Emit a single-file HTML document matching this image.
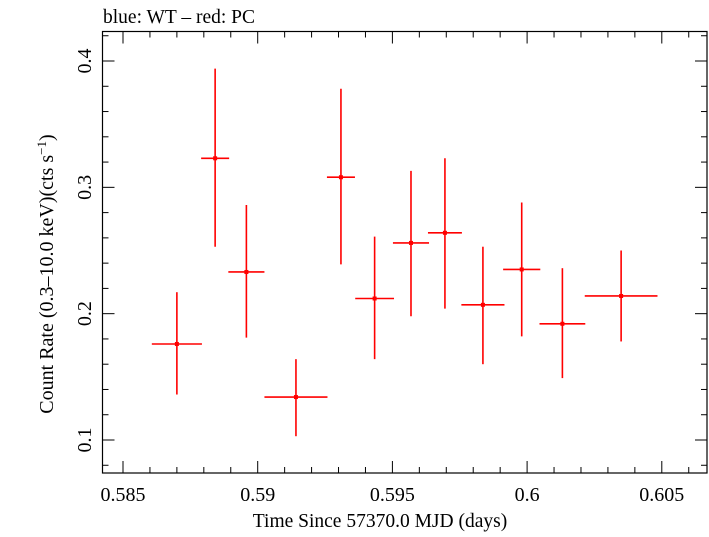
<!DOCTYPE html>
<html><head><meta charset="utf-8"><style>
body{margin:0;background:#fff}
svg text{font-family:"Liberation Serif",serif;fill:#000}
</style></head><body>
<svg width="709" height="532" id="c">
<text x="103" y="23" font-size="19.5">blue: WT – red: PC</text>
<rect x="102.5" y="31.5" width="604.5" height="441.5" fill="none" stroke="#000" stroke-width="1.2"/>
<g id="ticks"></g><g id="marks"></g>
<text x="380" y="527" font-size="19.5" text-anchor="middle">Time Since 57370.0 MJD (days)</text>
<text transform="translate(53,274) rotate(-90)" font-size="20" text-anchor="middle">Count Rate (0.3–10.0 keV)(cts s<tspan dy="-7" font-size="13">−1</tspan><tspan dy="7">)</tspan></text>
</svg>
<script>
const times=[0.58700,0.58842,0.58958,0.59142,0.59309,0.59434,0.59569,0.59695,0.59836,0.59980,0.60131,0.60349];
const timeErr=[0.00093,0.00052,0.00067,0.00117,0.00052,0.00072,0.00067,0.00063,0.00080,0.00069,0.00085,0.00135];
const rates=[0.176,0.323,0.233,0.134,0.308,0.212,0.256,0.264,0.207,0.235,0.192,0.214];
const rateLo=[0.136,0.253,0.181,0.103,0.239,0.164,0.198,0.204,0.160,0.182,0.149,0.178];
const rateHi=[0.217,0.394,0.286,0.164,0.378,0.261,0.313,0.323,0.253,0.288,0.236,0.250];
const xTickLabels=["0.585","0.59","0.595","0.6","0.605"];
const xTickVals=[0.585,0.59,0.595,0.6,0.605];
const yTickLabels=["0.1","0.2","0.3","0.4"];
const yTickVals=[0.1,0.2,0.3,0.4];
const X=v=>123+(v-0.585)*26940;
const Y=v=>440-(v-0.1)*1263.3;
const NS="http://www.w3.org/2000/svg";
const tk=document.getElementById('ticks'),mk=document.getElementById('marks');
function line(p,x1,y1,x2,y2,st,w){const l=document.createElementNS(NS,'line');l.setAttribute('x1',x1);l.setAttribute('y1',y1);l.setAttribute('x2',x2);l.setAttribute('y2',y2);l.setAttribute('stroke',st);l.setAttribute('stroke-width',w);p.appendChild(l);return l;}
for(let i=0;i<=25;i++){const v=0.584+i*0.001;const x=X(v);if(x<103||x>707)continue;const major=Math.abs(Math.round(v*200)-v*200)<1e-6;const L=major?12:6;
let a=line(tk,x,473,x,473-L,'#000',1);
let b=line(tk,x,31.5,x,31.5+L,'#000',1);}
for(let i=0;i<=20;i++){const v=0.08+i*0.02;const y=Y(v);if(y<32||y>473)continue;const major=Math.abs(Math.round(v*10)-v*10)<1e-6;const L=major?12:6;
let a=line(tk,102.5,y,102.5+L,y,'#000',1);
let b=line(tk,707,y,707-L,y,'#000',1);}
xTickLabels.forEach((s,i)=>{const t=document.createElementNS(NS,'text');t.setAttribute('x',X(xTickVals[i]));t.setAttribute('y',501);t.setAttribute('font-size','20');t.setAttribute('text-anchor','middle');t.textContent=s;


tk.appendChild(t);});
yTickLabels.forEach((s,i)=>{const t=document.createElementNS(NS,'text');t.setAttribute('transform','translate(91,'+Y(yTickVals[i])+') rotate(-90)');t.setAttribute('font-size','20');t.setAttribute('text-anchor','middle');t.textContent=s;


tk.appendChild(t);});
times.forEach((t,i)=>{const g=document.createElementNS(NS,'g');


line(g,X(t-timeErr[i]),Y(rates[i]),X(t+timeErr[i]),Y(rates[i]),'#f00',1.6);
line(g,X(t),Y(rateLo[i]),X(t),Y(rateHi[i]),'#f00',1.6);
const c=document.createElementNS(NS,'rect');c.setAttribute('x',X(t)-2);c.setAttribute('y',Y(rates[i])-2);c.setAttribute('width',4);c.setAttribute('height',4);c.setAttribute('fill','#f00');g.appendChild(c);
mk.appendChild(g);});
</script>
</body></html>
